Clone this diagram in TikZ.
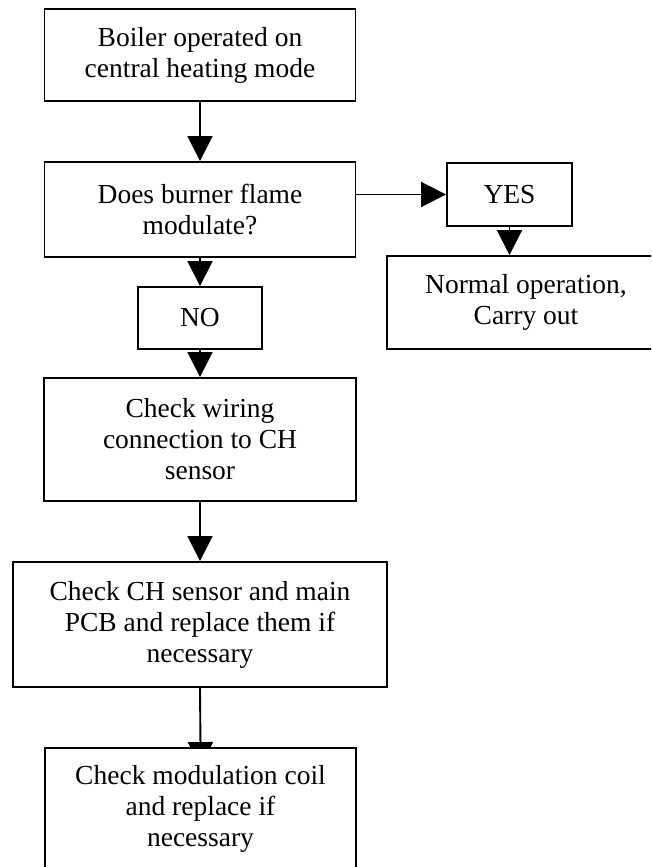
\documentclass[tikz,border=0pt]{standalone}
\usepackage{fontspec}
\setmainfont{Liberation Serif}
\usetikzlibrary{arrows.meta,backgrounds}
\begin{document}
\begin{tikzpicture}[x=1pt,y=-1pt,
  box/.style={draw, line width=1.9pt, fill=white, align=center, inner sep=0pt,
    font=\fontsize{27.5}{31}\selectfont},
  conn/.style={line width=1.9pt, -{Triangle[length=25pt,width=25pt]}}]
\useasboundingbox (0,0) rectangle (651,867);
\clip (0,0) rectangle (651,867);
\node[box, minimum width=311pt, minimum height=92pt] (b1) at (200,55) {Boiler operated on\\central heating mode};
\node[box, minimum width=311pt, minimum height=95pt] (b2) at (200,209.5) {Does burner flame\\modulate?};
\node[box, minimum width=125pt, minimum height=63pt] (yes) at (509.5,194.5) {YES};
\node[box, minimum width=278pt, minimum height=93pt] (normal) at (526,302.5) {Normal operation,\\Carry out};
\node[box, minimum width=124pt, minimum height=62pt] (no) at (200,318) {NO};
\node[box, minimum width=312pt, minimum height=123pt] (b3) at (200,439.5) {Check wiring\\connection to CH\\sensor};
\node[box, minimum width=374pt, minimum height=125pt] (b4) at (200,624.5) {Check CH sensor and main\\PCB and replace them if\\necessary};
\node[box, minimum width=311pt, minimum height=122pt] (b5) at (200.5,809) {Check modulation coil\\and replace if\\necessary};
\begin{pgfonlayer}{background}
\draw[conn] (b1.south) -- (b2.north);
\draw[conn] (b2.east |- yes.west) -- (yes.west);
\draw[conn] (yes.south) -- (yes.south |- normal.north);
\draw[conn] (b2.south) -- (no.north);
\draw[conn] (no.south) -- (b3.north);
\draw[conn] (b3.south) -- (b4.north);
\draw[conn, shorten >=-20pt] (b4.south) -- (b5.north);
\end{pgfonlayer}
\end{tikzpicture}
\end{document}
